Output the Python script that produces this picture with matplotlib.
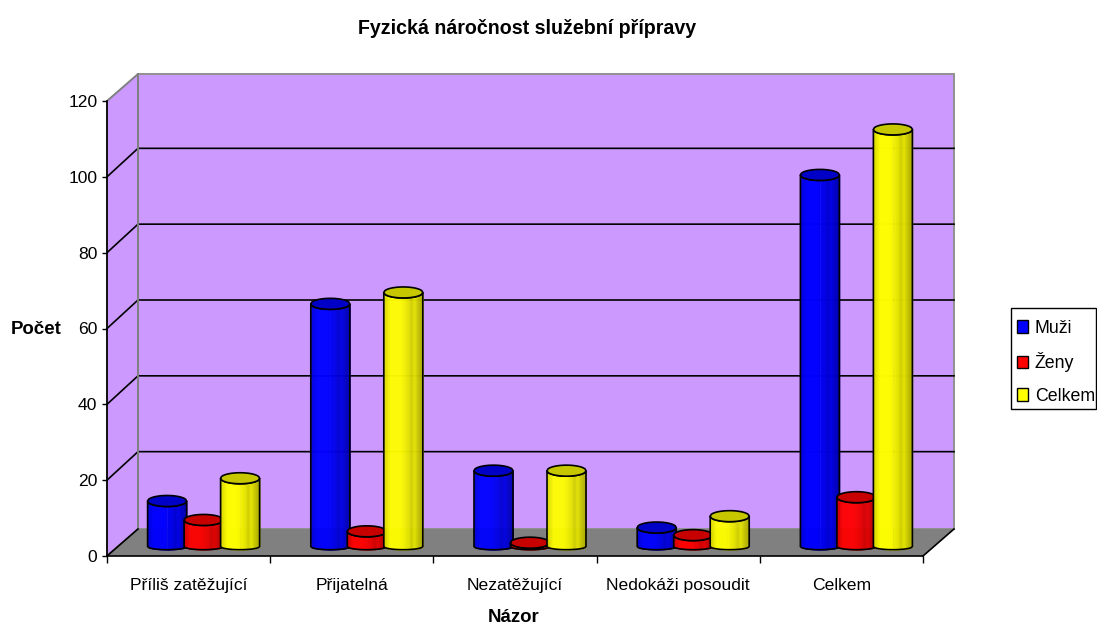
import matplotlib
matplotlib.use("Agg")
import matplotlib.pyplot as plt
import numpy as np
from matplotlib.patches import Patch, Polygon, Rectangle
from matplotlib.colors import to_rgb

plt.rcParams['font.family'] = ['Liberation Sans', 'DejaVu Sans']

title = "Fyzická náročnost služební přípravy"
x_title = "Názor"
y_title = "Počet"
categories = ["Příliš zatěžující", "Přijatelná", "Nezatěžující", "Nedokáži posoudit", "Celkem"]
series_names = ["Muži", "Ženy", "Celkem"]
muzi = [12, 64, 20, 5, 98]
zeny = [7, 4, 1, 3, 13]
celkem = [18, 67, 20, 8, 110]
series_values = [muzi, zeny, celkem]
series_colors = ["#0000FF", "#FF0000", "#FFFF00"]
y_ticks = [0, 20, 40, 60, 80, 100, 120]

W, H = 1097, 625
fig = plt.figure(figsize=(W / 100, H / 100), dpi=100, facecolor="white")
L, R, B, T = 107, 923, 556, 101
ax = fig.add_axes([L / W, 1 - B / H, (R - L) / W, (B - T) / H])
ax.set_xlim(0, len(categories))
ax.set_ylim(0, 120)
ax.patch.set_visible(False)

px = len(categories) / (R - L)
py = 120 / (B - T)
dx, dy = 31 * px, 27 * py
grid_dy = 28.5 * py
x_end = len(categories)

# walls and floor
wall = "#CC99FF"
ax.add_patch(Polygon([(dx, dy), (x_end + dx, dy), (x_end + dx, 120 + dy), (dx, 120 + dy)],
                     fc=wall, ec="#909090", lw=1.4, clip_on=False, zorder=1))
ax.add_patch(Polygon([(0, 0), (dx, dy), (dx, 120 + dy), (0, 120)],
                     fc=wall, ec="#808080", lw=1.4, clip_on=False, zorder=1))
for v in y_ticks[1:-1]:
    ax.plot([0, dx, x_end + dx], [v, v + grid_dy, v + grid_dy], color="black", lw=1.2,
            clip_on=False, zorder=2, solid_joinstyle="miter")
ax.plot([dx, dx], [dy, 120 + dy], color="#808080", lw=1.4, clip_on=False, zorder=2)
ax.add_patch(Polygon([(0, 0), (dx, dy), (x_end + dx, dy), (x_end, 0)],
                     fc="#808080", ec="none", clip_on=False, zorder=3))
ax.plot([0, dx], [0, dy], color="black", lw=1.2, clip_on=False, zorder=3)
ax.plot([x_end, x_end + dx], [0, dy], color="black", lw=1.2, clip_on=False, zorder=3)

# cylinders
bar_w = 39 * px
pitch = 36.5 * px
off_x = 15 * px
off_y = 9.5 * py
top_h = 5.5 * py
base_h = 3.2 * py
shade = [0.86, 0.93, 1, 1, 1, 1, 0.98, 0.94, 0.9, 0.82, 0.9, 0.8, 0.72, 0.68]


def cylinder(x0, value, colour, z):
    rgb = np.array(to_rgb(colour))
    t = np.linspace(0, 1, 40)
    xs = x0 + bar_w * t
    u = 2 * t - 1
    arc = np.sqrt(np.clip(1 - u ** 2, 0, 1))
    low = off_y - base_h * arc
    up = off_y + value - top_h * arc
    for i in range(len(t) - 1):
        k = np.interp(t[i], np.linspace(0, 1, len(shade)), shade)
        ax.fill_between(xs[i:i + 2], low[i:i + 2], up[i:i + 2], color=rgb * k, lw=0.4,
                        clip_on=False, zorder=z)
    outline_x = np.r_[xs, xs[::-1]]
    outline_y = np.r_[low, (off_y + value - top_h * arc)[::-1]]
    ax.add_patch(Polygon(np.c_[outline_x, outline_y], fc="none", ec="#000000", lw=1.2,
                         clip_on=False, zorder=z + 0.2))
    top_x = np.r_[xs, xs[::-1]]
    top_y = np.r_[off_y + value - top_h * arc, (off_y + value + top_h * arc)[::-1]]
    ax.add_patch(Polygon(np.c_[top_x, top_y], fc=rgb * 0.78, ec="#000000", lw=1.2,
                         clip_on=False, zorder=z + 0.3))


n = len(series_values)
for ci in range(len(categories)):
    centre = ci + 0.5 + off_x
    for si, vals in enumerate(series_values):
        x0 = centre + (si - (n - 1) / 2) * pitch - bar_w / 2
        cylinder(x0, vals[ci], series_colors[si], 5 + si)

# axes
for s in ("top", "right"):
    ax.spines[s].set_visible(False)
for s in ("left", "bottom"):
    ax.spines[s].set_linewidth(1.2)
    ax.spines[s].set_zorder(4)
ax.set_yticks(y_ticks)
ax.set_xticks(range(len(categories) + 1))
ax.set_xticklabels([])
ax.set_xticks(np.arange(len(categories)) + 0.5, minor=True)
ax.set_xticklabels(categories, minor=True, fontsize=12.6)
ax.tick_params(axis="x", which="minor", length=0, pad=16)
ax.tick_params(axis="x", which="major", length=5, width=1, pad=2)
ax.tick_params(axis="y", length=3.6, width=1, pad=3.4, labelsize=12.6)

fig.text(527 / W, 1 - 28 / H, title, ha="center", va="center", fontsize=14.1, fontweight="bold")
fig.text(514 / W, 1 - 618 / H, x_title, ha="center", va="center", fontsize=13.4, fontweight="bold")
fig.text(36 / W, 1 - 329 / H, y_title, ha="center", va="center", fontsize=13.4, fontweight="bold")

fig.add_artist(Rectangle((1011 / W, 1 - 409 / H), 85 / W, 101 / H, transform=fig.transFigure,
                         fc="white", ec="black", lw=1))
handles = [Patch(fc=c, ec="black", lw=1) for c in series_colors]
leg = fig.legend(handles, series_names, loc="upper left",
                 bbox_to_anchor=(1016.5 / W, 1 - 320 / H), borderaxespad=0, borderpad=0,
                 frameon=False, fontsize=12.8,
                 handlelength=0.62, handleheight=0.72, handletextpad=0.42,
                 labelspacing=0.86)

fig.savefig("out.png", dpi=100, facecolor="white")
